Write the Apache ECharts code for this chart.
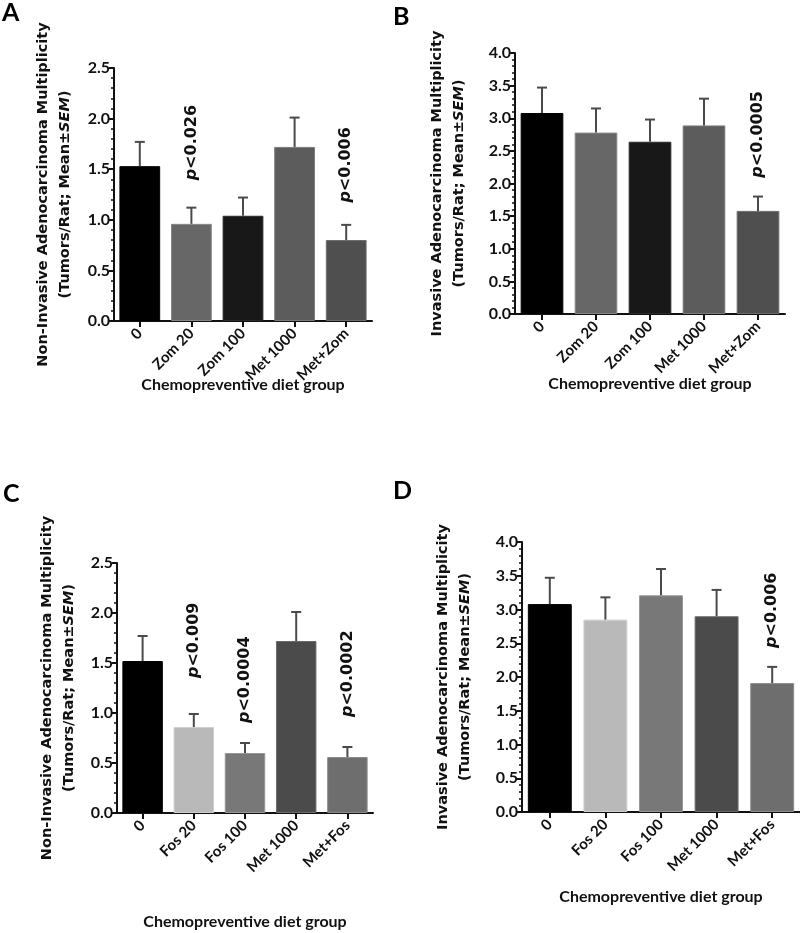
<!DOCTYPE html>
<html><head><meta charset="utf-8">
<script src="https://cdn.jsdelivr.net/npm/echarts@6/dist/echarts.min.js"></script>
<style>html,body{margin:0;padding:0;background:#fff}#c{width:800px;height:933px}</style>
</head><body><div id="c"></div>
<script>
// ---- data ----
const catsZom = ['0', 'Zom 20', 'Zom 100', 'Met 1000', 'Met+Zom'];
const catsFos = ['0', 'Fos 20', 'Fos 100', 'Met 1000', 'Met+Fos'];

const meanA = [1.53, 0.96, 1.04, 1.72, 0.80];
const semA  = [0.24, 0.16, 0.18, 0.29, 0.15];
const meanB = [3.08, 2.78, 2.64, 2.89, 1.58];
const semB  = [0.39, 0.37, 0.34, 0.41, 0.22];
const meanC = [1.52, 0.86, 0.60, 1.72, 0.56];
const semC  = [0.25, 0.13, 0.10, 0.29, 0.10];
const meanD = [3.08, 2.85, 3.21, 2.90, 1.91];
const semD  = [0.39, 0.33, 0.39, 0.39, 0.24];

// p-value annotations: [category index, value where label starts, text]
const pA = [[1, 1.39, '<0.026'], [4, 1.17, '<0.006']];
const pB = [[4, 2.09, '<0.0005']];
const pC = [[1, 1.35, '<0.009'], [2, 0.90, '<0.0004'], [4, 0.96, '<0.0002']];
const pD = [[4, 2.43, '<0.006']];

const yTicksA = [0, 2.5, 0.5];   // min, max, interval
const yTicksB = [0, 4.0, 0.5];

const nameNonInv = 'Non-Invasive Adenocarcinoma Multiplicity';
const nameInv = 'Invasive Adenocarcinoma Multiplicity';
const xName = 'Chemopreventive diet group';

// ---- styles ----
const FONT = 'Lato';
const VFONT = 'DejaVu Sans';
const colA = ['#000000', '#676767', '#181818', '#5c5c5c', '#4f4f4f'];
const bdA  = ['#000000', '#888888', '#2a2a2a', '#7c7c7c', '#6c6c6c'];
const colC = ['#000000', '#b9b9b9', '#787878', '#4b4b4b', '#6e6e6e'];
const bdC  = ['#000000', '#cfcfcf', '#969696', '#6a6a6a', '#8c8c8c'];

const panels = [
  {cats: catsZom, mean: meanA, sem: semA, p: pA, y: yTicksA, yname: nameNonInv, col: colA, bd: bdA,
   grid: {left: 114, top: 68, width: 258, height: 253}, xGap: 56, yGap: 38},
  {cats: catsZom, mean: meanB, sem: semB, p: pB, y: yTicksB, yname: nameInv, col: colA, bd: bdA,
   grid: {left: 515, top: 53, width: 270, height: 261}, xGap: 62, yGap: 45},
  {cats: catsFos, mean: meanC, sem: semC, p: pC, y: yTicksA, yname: nameNonInv, col: colC, bd: bdC,
   grid: {left: 117, top: 563, width: 256, height: 250}, xGap: 101, yGap: 37},
  {cats: catsFos, mean: meanD, sem: semD, p: pD, y: yTicksB, yname: nameInv, col: colC, bd: bdC,
   grid: {left: 522, top: 542, width: 278, height: 270}, xGap: 77, yGap: 46}
];

const axisLine = {lineStyle: {color: '#111', width: 2}};
const grids = [], xAxes = [], yAxes = [], series = [];

panels.forEach((pn, i) => {
  grids.push(Object.assign({containLabel: false}, pn.grid));
  xAxes.push({
    type: 'category', gridIndex: i, data: pn.cats,
    axisLine: axisLine,
    axisTick: {show: true, alignWithLabel: true, length: 6, lineStyle: {color: '#111', width: 2}},
    axisLabel: {rotate: 45, margin: 10, fontFamily: FONT, fontWeight: 'bold', fontSize: 15, color: '#111'},
    name: xName, nameLocation: 'middle', nameGap: pn.xGap, nameMoveOverlap: false,
    nameTextStyle: {fontFamily: FONT, fontWeight: 'bold', fontSize: 16, color: '#111'}
  });
  yAxes.push({
    type: 'value', gridIndex: i, min: pn.y[0], max: pn.y[1], interval: pn.y[2],
    axisLine: Object.assign({show: true}, axisLine),
    axisTick: {show: true, length: 5, lineStyle: {color: '#111', width: 2}},
    minorTick: {show: true, splitNumber: 5, length: 3, lineStyle: {color: '#111', width: 1.5}},
    splitLine: {show: false},
    axisLabel: {margin: 4, fontFamily: FONT, fontWeight: 'bold', fontSize: 16, color: '#111',
      formatter: v => v.toFixed(1)},
    name: '{b|' + pn.yname + '}\n{b|(Tumors/Rat; Mean±}{i|SEM}{b|)}',
    nameLocation: 'middle', nameRotate: 90, nameGap: pn.yGap, nameMoveOverlap: false,
    nameTextStyle: {
      fontFamily: VFONT, fontWeight: 'bold', fontSize: 14.5, color: '#111', lineHeight: 22,
      rich: {
        b: {fontFamily: VFONT, fontWeight: 'bold', fontSize: 14.5, color: '#111', lineHeight: 22},
        i: {fontFamily: VFONT, fontWeight: 'bold', fontStyle: 'italic', fontSize: 14.5, color: '#111', lineHeight: 22}
      }
    }
  });
  series.push({
    type: 'bar', xAxisIndex: i, yAxisIndex: i, barWidth: '79%',
    data: pn.mean.map((v, k) => ({value: v, itemStyle: {color: pn.col[k], borderColor: pn.bd[k], borderWidth: 1}})),
    z: 2
  });
  series.push({
    type: 'custom', xAxisIndex: i, yAxisIndex: i, z: 3,
    data: pn.mean.map((v, k) => [k, v, pn.sem[k]]),
    encode: {x: 0, y: 1},
    renderItem: (params, api) => {
      const x = api.value(0), m = api.value(1), s = api.value(2);
      const p0 = api.coord([x, m]);
      const p1 = api.coord([x, m + s]);
      const hw = 5;
      return {type: 'group', children: [
        {type: 'line', shape: {x1: p0[0], y1: p0[1], x2: p1[0], y2: p1[1]}, style: {stroke: '#4a4a4a', lineWidth: 2}},
        {type: 'line', shape: {x1: p1[0] - hw, y1: p1[1], x2: p1[0] + hw, y2: p1[1]}, style: {stroke: '#4a4a4a', lineWidth: 2}}
      ]};
    }
  });
  const pl = pn.p;
  series.push({
    type: 'custom', xAxisIndex: i, yAxisIndex: i, z: 4,
    data: pl.map(d => [d[0], d[1]]),
    encode: {x: 0, y: 1},
    renderItem: (params, api) => {
      const pt = api.coord([api.value(0), api.value(1)]);
      return {type: 'text', x: pt[0], y: pt[1], rotation: Math.PI / 2,
        style: {text: '{i|p}{n|' + pl[params.dataIndex][2] + '}', align: 'left', verticalAlign: 'middle',
          rich: {
            i: {fontFamily: VFONT, fontWeight: 'bold', fontStyle: 'italic', fontSize: 16, fill: '#111'},
            n: {fontFamily: VFONT, fontWeight: 'bold', fontSize: 16, fill: '#111'}
          }}};
    }
  });
});

const letterStyle = {fontFamily: FONT, fontWeight: 'bold', fontSize: 25, color: '#000'};
const option = {
  animation: false,
  backgroundColor: '#fff',
  title: [
    {text: 'A', left: 2, top: 0, padding: 0, textStyle: letterStyle},
    {text: 'B', left: 393, top: 4, padding: 0, textStyle: letterStyle},
    {text: 'C', left: 3, top: 481, padding: 0, textStyle: letterStyle},
    {text: 'D', left: 393, top: 478, padding: 0, textStyle: letterStyle}
  ],
  grid: grids, xAxis: xAxes, yAxis: yAxes, series: series
};
const chart = echarts.init(document.getElementById('c'));
chart.setOption(option);
</script>
</body></html>
